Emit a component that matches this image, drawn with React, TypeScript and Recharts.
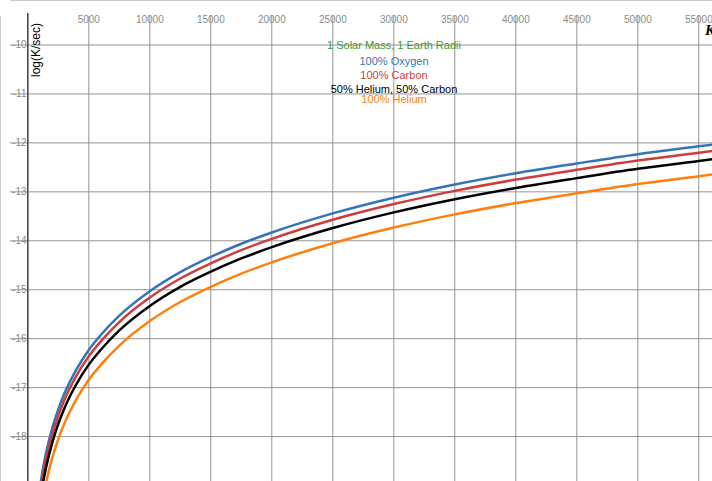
import React from 'react';
import { LineChart, Line, XAxis, YAxis, CartesianGrid, ReferenceLine } from 'recharts';

// Temperature (K) sample points
const temperatures = [1000, 1250, 1500, 2000, 2500, 3000, 4000, 5000, 6000, 7500, 10000, 12500, 15000, 17500, 20000, 25000, 30000, 35000, 40000, 45000, 50000, 55000, 58500];

// log(K/sec) per composition
const oxygen = [-19.03, -18.64, -18.33, -17.83, -17.44, -17.12, -16.62, -16.23, -15.92, -15.53, -15.03, -14.64, -14.33, -14.06, -13.83, -13.44, -13.12, -12.85, -12.62, -12.42, -12.23, -12.07, -11.96];
const carbon = [-19.16, -18.77, -18.46, -17.96, -17.57, -17.25, -16.75, -16.36, -16.05, -15.66, -15.16, -14.77, -14.46, -14.19, -13.96, -13.57, -13.25, -12.98, -12.75, -12.55, -12.36, -12.2, -12.09];
const heliumCarbon = [-19.33, -18.94, -18.63, -18.13, -17.74, -17.42, -16.92, -16.53, -16.22, -15.83, -15.33, -14.94, -14.63, -14.36, -14.13, -13.74, -13.42, -13.15, -12.92, -12.72, -12.53, -12.37, -12.26];
const helium = [-19.64, -19.25, -18.94, -18.44, -18.05, -17.73, -17.23, -16.84, -16.53, -16.14, -15.64, -15.25, -14.94, -14.67, -14.44, -14.05, -13.73, -13.46, -13.23, -13.03, -12.84, -12.68, -12.57];

const xTicks = [5000, 10000, 15000, 20000, 25000, 30000, 35000, 40000, 45000, 50000, 55000];
const yTicks = [-10, -11, -12, -13, -14, -15, -16, -17, -18, -19];

const legendLabels = ['1 Solar Mass, 1 Earth Radii', '100% Oxygen', '100% Carbon', '50% Helium, 50% Carbon', '100% Helium'];
const legendColors = ['#3a9a3a', '#3574b9', '#cc3d3d', '#000000', '#ff7f0e'];
const legendBaselines = [49, 64.7, 79, 93.3, 103.3];

const seriesKeys = ['oxygen', 'carbon', 'heliumCarbon', 'helium'];
const seriesColors = ['#3574b9', '#cc3d3d', '#000000', '#ff7f0e'];

const data = temperatures.map((T, i) => ({
  T,
  oxygen: oxygen[i],
  carbon: carbon[i],
  heliumCarbon: heliumCarbon[i],
  helium: helium[i],
}));

const X_DOMAIN: [number, number] = [-2279, 58377];
const Y_DOMAIN: [number, number] = [-19.295, -9.081];
const AXIS_TOP = -9.346;

const FONT = '"Liberation Sans", Arial, Helvetica, sans-serif';
const GRID = '#939393';

const XTick = (props: any) => {
  const { x, payload } = props;
  return (
    <text x={x} y={22.5} textAnchor="middle" fontSize={10} fill="#8a8a8a" fontFamily={FONT}>
      {payload.value}
    </text>
  );
};

const YTick = (props: any) => {
  const { y, payload } = props;
  return (
    <text x={26.5} y={y + 3.5} textAnchor="end" fontSize={10} fill="#8a8a8a" fontFamily={FONT}>
      {String(payload.value)}
    </text>
  );
};

export default function App() {
  return (
    <div style={{ position: 'absolute', left: 0, top: 0, width: 712, height: 481, overflow: 'hidden', background: '#fff' }}>
      <LineChart width={740} height={500} data={data} margin={{ top: 0, right: 0, bottom: 0, left: 0 }}>
        <CartesianGrid
          horizontal={(p: any) => (
            <line key={`h-${p.index}-${p.y1}`} x1={10} y1={p.y1} x2={p.x2} y2={p.y2} stroke={GRID} strokeWidth={1} />
          )}
          vertical={(p: any) => (
            <line key={`v-${p.index}-${p.x1}`} x1={p.x1} y1={16} x2={p.x2} y2={p.y2} stroke={GRID} strokeWidth={1} />
          )}
        />
        <XAxis
          type="number"
          dataKey="T"
          orientation="top"
          mirror
          domain={X_DOMAIN}
          allowDataOverflow
          ticks={xTicks}
          interval={0}
          axisLine={false}
          tickLine={false}
          tick={<XTick />}
        />
        <YAxis
          type="number"
          mirror
          domain={Y_DOMAIN}
          allowDataOverflow
          ticks={yTicks}
          interval={0}
          axisLine={false}
          tickLine={false}
          tick={<YTick />}
        />
        <ReferenceLine
          segment={[{ x: 0, y: AXIS_TOP }, { x: 0, y: Y_DOMAIN[0] }]}
          stroke="#4a4a4a"
          strokeWidth={1.6}
        />
        {seriesKeys.map((k, i) => (
          <Line
            key={k}
            type="monotone"
            dataKey={k}
            stroke={seriesColors[i]}
            strokeWidth={2.5}
            dot={false}
            activeDot={false}
            isAnimationActive={false}
          />
        ))}
      </LineChart>
      <svg width={712} height={481} style={{ position: 'absolute', left: 0, top: 0, pointerEvents: 'none' }}>
        <text
          x={39.5}
          y={50}
          transform="rotate(-90, 39.5, 50)"
          textAnchor="middle"
          fontSize={12}
          fill="#000"
          fontFamily={FONT}
        >
          log(K/sec)
        </text>
        <text x={705} y={35} fontSize={15} fontStyle="italic" fontWeight="bold" fill="#000" fontFamily='"Liberation Serif", "Times New Roman", serif'>
          K
        </text>
        {legendLabels.map((t, i) => (
          <text key={t} x={394} y={legendBaselines[i]} textAnchor="middle" fontSize={11} fill={legendColors[i]} fontFamily={FONT}>
            {t}
          </text>
        ))}
      </svg>
    </div>
  );
}
